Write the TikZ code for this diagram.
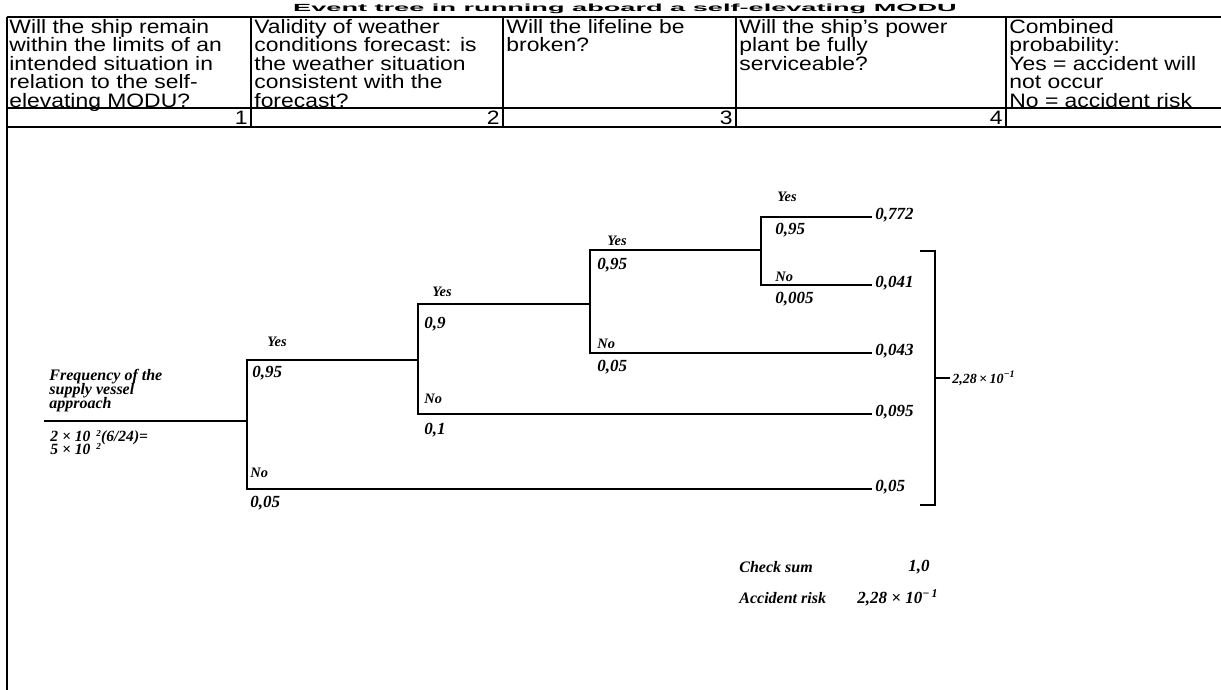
\documentclass[tikz,border=0pt]{standalone}
\usepackage{graphicx}
\usepackage{fontspec}
\setmainfont{Liberation Serif}
\newfontfamily\arialfont{Liberation Sans}[FakeStretch=1.18]
\newfontfamily\timesfont{Liberation Serif}
\usetikzlibrary{positioning}
\newcommand{\hdrfont}{\arialfont\fontsize{9.7pt}{9.25pt}\selectfont\lineskiplimit=-10pt}
\newcommand{\titlefont}{\arialfont\bfseries\fontsize{11.5pt}{11.5pt}\selectfont}
\newcommand{\treefont}{\timesfont\bfseries\itshape\fontsize{7.2pt}{7pt}\selectfont}
\newcommand{\numfont}{\timesfont\bfseries\itshape\fontsize{8.5pt}{6.85pt}\selectfont}
\newcommand{\rootfont}{\timesfont\bfseries\itshape\fontsize{8pt}{7pt}\selectfont\lineskiplimit=-10pt}
\newcommand{\ratefont}{\timesfont\bfseries\itshape\fontsize{7.8pt}{6.5pt}\selectfont\lineskiplimit=-10pt}
\newcommand{\smalltree}{\timesfont\bfseries\itshape\fontsize{7pt}{7pt}\selectfont}
\newcommand{\supsc}[1]{\raisebox{2.4pt}{\fontsize{4.6pt}{4.6pt}\selectfont #1}}
\tikzset{
  hdr/.style={anchor=north west, align=left, inner sep=0pt, font=\hdrfont},
  colnum/.style={anchor=east, inner sep=0pt, font=\hdrfont},
  rule/.style={line width=0.9pt},
  branch/.style={line width=1.3pt},
  lbl/.style={anchor=west, inner sep=0pt, font=\treefont},
  prob/.style={anchor=west, inner sep=0pt, font=\numfont},
  val/.style={anchor=west, inner sep=1.5pt, font=\numfont}
}
\begin{document}
\begin{tikzpicture}[x=0.5pt, y=-0.5pt]
\useasboundingbox (0,0) rectangle (1221,690);
% title (only its lower part shows above the table)
\node[anchor=base, inner sep=0pt] (title) at (625,11.5)
  {\scalebox{1}[0.45]{\titlefont Event tree in running aboard a self-elevating MODU}};
% table
\draw[rule] (7,17) -- (1221,17);
\draw[rule] (7,108) -- (1221,108);
\draw[rule] (7,127) -- (1221,127);
\draw[rule] (7,17) -- (7,690);
\foreach \cx in {251,503,736,1006}
  \draw[rule] (\cx,17) -- (\cx,127);
\node[hdr] (q1) at (9,19) {Will the ship remain\\within the limits of an\\intended situation in\\relation to the self-\\elevating MODU?};
\node[hdr] (q2) at (254,19) {Validity of weather\\conditions forecast: is\\the weather situation\\consistent with the\\forecast?};
\node[hdr] (q3) at (506,19) {Will the lifeline be\\broken?};
\node[hdr] (q4) at (739,19) {Will the ship’s power\\plant be fully\\serviceable?};
\node[hdr] (q5) at (1009,19) {Combined\\probability:\\Yes = accident will\\not occur\\No = accident risk};
\node[colnum] (n1) at (248,118) {1};
\node[colnum] (n2) at (500,118) {2};
\node[colnum] (n3) at (733,118) {3};
\node[colnum] (n4) at (1003,118) {4};
% event tree
\coordinate (root) at (44,421);
\coordinate (f1m) at (247,421);
\coordinate (f1t) at (247,360);
\coordinate (f1b) at (247,489);
\coordinate (f2m) at (418,360);
\coordinate (f2t) at (418,304);
\coordinate (f2b) at (418,414);
\coordinate (f3m) at (590,304);
\coordinate (f3t) at (590,250);
\coordinate (f3b) at (590,353);
\coordinate (f4m) at (761,250);
\coordinate (f4t) at (761,217);
\coordinate (f4b) at (761,285);
\node[val] (v1) at (872,215) {0,772};
\node[val] (v2) at (872,283) {0,041};
\node[val] (v3) at (872,351) {0,043};
\node[val] (v4) at (872,412) {0,095};
\node[val] (v5) at (872,487) {0,05};
\node[prob, anchor=north west, align=left, font=\rootfont] (freq) at (49,369)
  {Frequency of the\\supply vessel\\approach};
\node[prob, anchor=north west, align=left, font=\ratefont] (rate) at (50,430)
  {2 × 10\hspace{3pt}\supsc{2}(6/24)=\\5 × 10\hspace{3pt}\supsc{2}};
\draw[branch] (root) -- (f1m);
\draw[branch] (f2m) -- (f1t) -- (f1b) -- (v5.west |- f1b);
\draw[branch] (f3m) -- (f2t) -- (f2b) -- (v4.west |- f2b);
\draw[branch] (f4m) -- (f3t) -- (f3b) -- (v3.west |- f3b);
\draw[branch] (v1.west |- f4t) -- (f4t) -- (f4b) -- (v2.west |- f4b);
% branch labels
\node[lbl] (y1) at (267,342) {Yes};
\node[prob] (p1) at (252,373) {0,95};
\node[lbl] (no1) at (250,473) {No};
\node[prob] (q1n) at (250,503) {0,05};
\node[lbl] (y2) at (432,292) {Yes};
\node[prob] (p2) at (424,324) {0,9};
\node[lbl] (no2) at (424,399) {No};
\node[prob] (q2n) at (424,430) {0,1};
\node[lbl] (y3) at (607,241) {Yes};
\node[prob] (p3) at (597,265) {0,95};
\node[lbl] (no3) at (597,344) {No};
\node[prob] (q3n) at (597,367) {0,05};
\node[lbl] (y4) at (777,197) {Yes};
\node[prob] (p4) at (775,230) {0,95};
\node[lbl] (no4) at (775,277) {No};
\node[prob] (q4n) at (775,299) {0,005};
% bracket over the accident outcomes
\coordinate (brtop) at (920,251);
\coordinate (brbot) at (920,505);
\coordinate (brmid) at (935,378);
\node[anchor=west, inner sep=1pt, font=\smalltree] (risk) at (950,378) {2,28\,×\,10\textsuperscript{−1}};
\draw[branch] (brtop) -- ++(15,0) |- (brbot);
\draw[line width=1pt] (brmid) -- (risk.west);
% totals
\node[prob, font=\rootfont] (chk) at (739,567) {Check sum};
\node[prob, anchor=east] (chkv) at (930,567) {1,0};
\node[prob, font=\rootfont] (acc) at (739,598) {Accident risk};
\node[prob] (accv) at (857,598) {2,28 × 10\textsuperscript{−\,1}};
\end{tikzpicture}
\end{document}
